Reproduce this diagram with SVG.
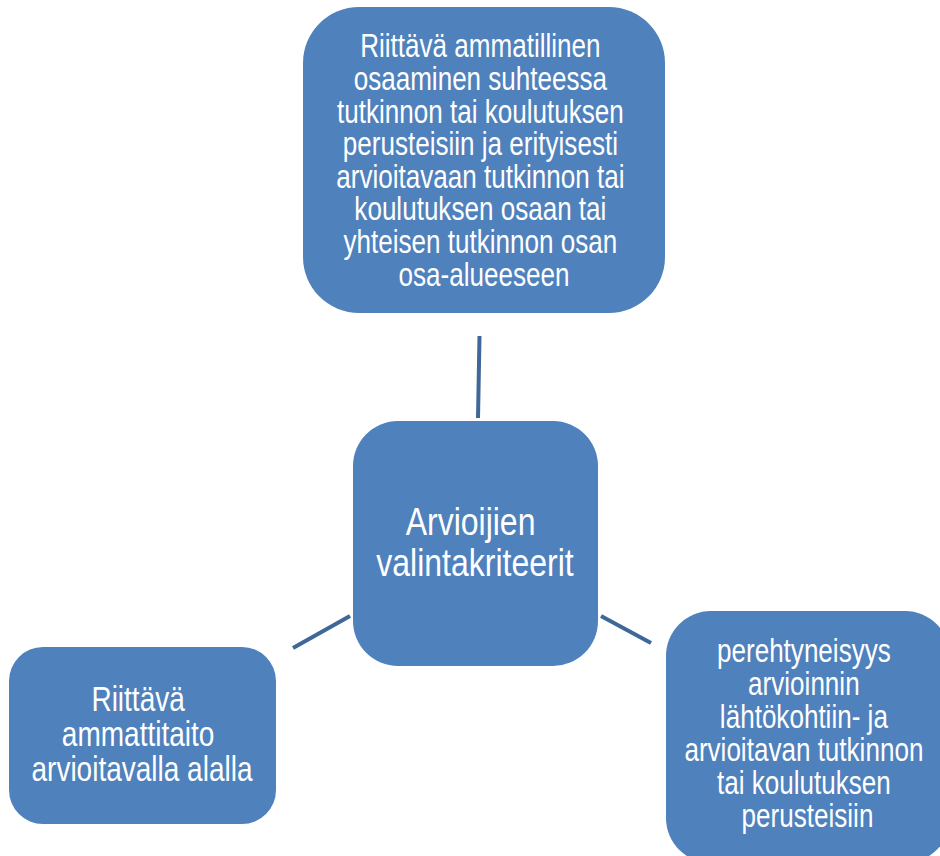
<svg xmlns="http://www.w3.org/2000/svg" width="940" height="856" viewBox="0 0 940 856">
  <style>
    .box { fill: #4f81bd; }
    .lbl { fill: #ffffff; font-family: "Liberation Sans", Arial, sans-serif; text-anchor: middle; }
    .link { stroke: #3f6798; stroke-width: 4; fill: none; }
  </style>
  <rect width="940" height="856" fill="#ffffff"/>

  <g id="connectors">
    <line class="link" x1="479.5" y1="336" x2="478" y2="418"/>
    <line class="link" x1="293" y1="648" x2="350" y2="616"/>
    <line class="link" x1="601" y1="616" x2="651" y2="643"/>
  </g>

  <!-- labels use a horizontally condensed sans (narrow face) -->
  <g id="node-top">
    <rect class="box" x="303" y="7" width="362" height="306" rx="56" ry="56"/>
    <g transform="translate(484 0) scale(0.79 1)">
      <text class="lbl" font-size="33">
        <tspan x="0" y="57.5">Riittävä ammatillinen</tspan>
        <tspan x="0" y="90.1">osaaminen suhteessa</tspan>
        <tspan x="0" y="122.7">tutkinnon tai koulutuksen</tspan>
        <tspan x="0" y="155.3">perusteisiin ja erityisesti</tspan>
        <tspan x="0" y="187.9">arvioitavaan tutkinnon tai</tspan>
        <tspan x="0" y="220.5">koulutuksen osaan tai</tspan>
        <tspan x="0" y="253.1">yhteisen tutkinnon osan</tspan>
        <tspan x="0" y="285.7">osa-alueeseen</tspan>
      </text>
    </g>
  </g>

  <g id="node-center">
    <rect class="box" x="353" y="421" width="245" height="245" rx="45" ry="45"/>
    <g transform="translate(475 0) scale(0.81 1)">
      <text class="lbl" font-size="39.5">
        <tspan x="0" y="535">Arvioijien</tspan>
        <tspan x="0" y="576">valintakriteerit</tspan>
      </text>
    </g>
  </g>

  <g id="node-left">
    <rect class="box" x="9" y="647" width="267" height="177" rx="34" ry="34"/>
    <g transform="translate(142 0) scale(0.8 1)">
      <text class="lbl" font-size="35">
        <tspan x="0" y="711.5">Riittävä</tspan>
        <tspan x="0" y="746.5">ammattitaito</tspan>
        <tspan x="0" y="781.5">arvioitavalla alalla</tspan>
      </text>
    </g>
  </g>

  <g id="node-right">
    <rect class="box" x="666" y="611" width="284" height="252" rx="45" ry="45"/>
    <g transform="translate(807.5 0) scale(0.79 1)">
      <text class="lbl" font-size="33">
        <tspan x="0" y="662">perehtyneisyys</tspan>
        <tspan x="0" y="695">arvioinnin</tspan>
        <tspan x="0" y="728">lähtökohtiin- ja</tspan>
        <tspan x="0" y="761">arvioitavan tutkinnon</tspan>
        <tspan x="0" y="794">tai koulutuksen</tspan>
        <tspan x="0" y="827">perusteisiin</tspan>
      </text>
    </g>
  </g>
</svg>
